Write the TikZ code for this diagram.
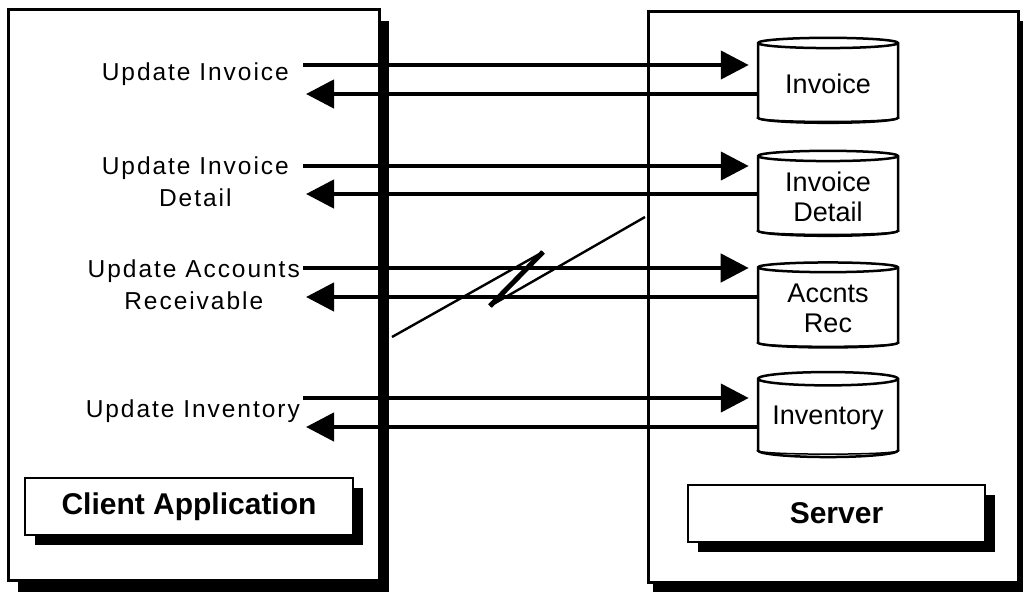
\documentclass[tikz,border=0pt]{standalone}
\usepackage{fontspec}
\setmainfont{Liberation Sans}
\usetikzlibrary{arrows.meta,shapes.geometric,shadows}

\tikzset{
  panel/.style={draw,line width=3pt,fill=white,inner sep=0pt},
  titlebox/.style={draw,line width=2.5pt,fill=white,minimum height=57pt,
    font=\bfseries\fontsize{30}{32}\selectfont,
    drop shadow={shadow xshift=10pt,shadow yshift=-10pt,fill=black,opacity=1}},
  dbase/.style={cylinder,shape border rotate=90,aspect=0.12,draw,line width=2.5pt,
    fill=white,minimum width=140pt,minimum height=85pt,inner sep=0pt,align=center,
    font=\fontsize{27}{30}\selectfont},
  upd/.style={anchor=east,align=center,inner sep=0pt,
    font=\fontsize{24.5}{32}\selectfont\addfontfeatures{LetterSpace=8}},
  flow/.style={line width=4.5pt,-{Triangle[length=28pt,width=28pt]}},
  zap/.style={line width=2.4pt,line join=miter}
}

\begin{document}
\begin{tikzpicture}[x=1pt,y=-1pt,line cap=butt]
  \fill[white] (0,0) rectangle (1029,595);
  \useasboundingbox (0,0) rectangle (1029,595);

  % the two panels
  \node[panel,minimum width=371pt,minimum height=571pt,
    drop shadow={shadow xshift=10pt,shadow yshift=-12pt,fill=black,opacity=1}]
    (client) at (193.5,294.5) {};
  \node[panel,minimum width=370pt,minimum height=571pt,
    drop shadow={shadow xshift=4pt,shadow yshift=-10pt,fill=black,opacity=1}]
    (server) at (833.5,296.5) {};

  \node[titlebox,minimum width=328pt] (capp) at (189,506.5) {Client Application};
  \node[titlebox,minimum width=297pt] (srv) at (836.5,513.5) {Server};

  % tables on the server
  \node[dbase] (inv) at (828,83.5) {Invoice};
  \node[dbase] (invdet) at (828,196.5) {Invoice\\Detail};
  \node[dbase] (accrec) at (828,308) {Accnts\\Rec};
  \node[dbase] (invtry) at (828,418.5) {Inventory};
  \draw[line width=1.5pt] (inv.before bottom) .. controls +(0,5) and +(0,5) .. (inv.after bottom);
  \draw[line width=1.5pt] (invdet.before bottom) .. controls +(0,5) and +(0,5) .. (invdet.after bottom);
  \draw[line width=1.5pt] (accrec.before bottom) .. controls +(0,5) and +(0,5) .. (accrec.after bottom);
  \draw[line width=1.5pt] (invtry.before bottom) .. controls +(0,5) and +(0,5) .. (invtry.after bottom);

  % updates on the client
  \node[upd] (uinv) at (289,74) {Update Invoice};
  \node[upd] (udet) at (289,182) {Update Invoice\\Detail};
  \node[upd] (uacc) at (300,285) {Update Accounts\\Receivable};
  \node[upd] (uinvt) at (300,411) {Update Inventory};

  \coordinate (f1) at (303,65);  \coordinate (b1) at (306,94);
  \coordinate (f2) at (303,166); \coordinate (b2) at (306,194);
  \coordinate (f3) at (303,268); \coordinate (b3) at (306,297);
  \coordinate (f4) at (303,398); \coordinate (b4) at (306,427);

  \draw[flow,shorten >=8pt] (f1) -- (f1 -| inv.west);
  \draw[flow] (b1 -| inv.west) -- (b1);
  \draw[flow,shorten >=8pt] (f2) -- (f2 -| invdet.west);
  \draw[flow] (b2 -| invdet.west) -- (b2);
  \draw[flow,shorten >=8pt] (f3) -- (f3 -| accrec.west);
  \draw[flow] (b3 -| accrec.west) -- (b3);
  \draw[flow,shorten >=8pt] (f4) -- (f4 -| invtry.west);
  \draw[flow] (b4 -| invtry.west) -- (b4);

  % broken link
  \coordinate (zA) at (392,337);
  \coordinate (zB) at (543,252);
  \coordinate (zC) at (490,306);
  \coordinate (zD) at (645,217);
  \draw[zap] (zA) -- (zB);
  \draw[line width=5pt] (zB) -- (zC);
  \draw[zap] (zC) -- (zD);
\end{tikzpicture}
\end{document}
